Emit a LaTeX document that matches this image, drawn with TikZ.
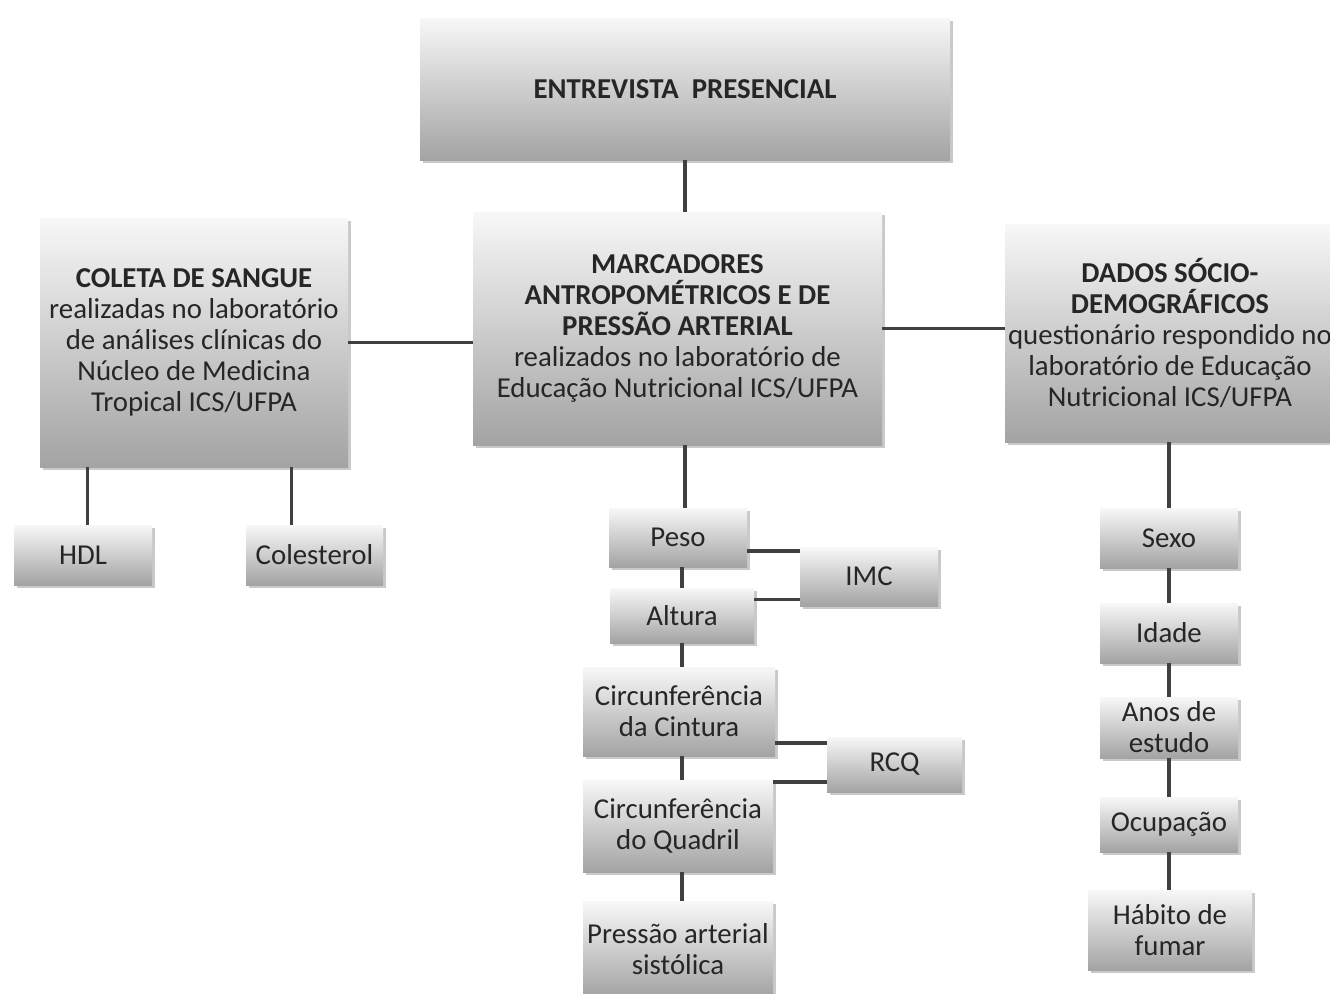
\documentclass[tikz,border=0pt]{standalone}
\usepackage{fontspec}
\setmainfont{Carlito}
\usetikzlibrary{shadows}

\begin{document}
\begin{tikzpicture}[
    box/.style={rectangle,inner sep=0pt,align=center,text=black!85,
        top color=black!3,middle color=black!11,bottom color=black!36,
        drop shadow={shadow xshift=0.05cm,shadow yshift=-0.05cm,opacity=0.3,fill=black!70},
        font=\fontsize{16.4}{17.6}\selectfont},
    link/.style={draw=black!75,line width=1.8pt},
]
    \useasboundingbox (0,0) rectangle (26.6,-19.88);

    %%%
    % main boxes
    \node[box,minimum width=10.6cm,minimum height=2.84cm] (entrevista) at (13.70,-1.78)
        {\bfseries ENTREVISTA\ \ PRESENCIAL};
    \node[box,minimum width=8.18cm,minimum height=4.66cm] (marc) at (13.55,-6.57)
        {{\bfseries MARCADORES}\\{\bfseries ANTROPOMÉTRICOS E DE}\\{\bfseries PRESSÃO ARTERIAL}\\
         realizados no laboratório de\\Educação Nutricional ICS/UFPA};
    \node[box,minimum width=6.16cm,minimum height=4.98cm] (coleta) at (3.88,-6.85)
        {{\bfseries COLETA DE SANGUE}\\realizadas no laboratório\\de análises clínicas do\\
         Núcleo de Medicina\\Tropical ICS/UFPA};
    \node[box,minimum width=6.6cm,minimum height=4.36cm] (dados) at (23.40,-6.66)
        {{\bfseries DADOS SÓCIO-}\\{\bfseries DEMOGRÁFICOS}\\questionário respondido no\\
         laboratório de Educação\\Nutricional ICS/UFPA};

    \draw[link] (entrevista.south) -- (entrevista.south |- marc.north);
    \draw[link] (coleta.east) -- (coleta.east -| marc.west);
    \draw[link] (marc.east) -- (marc.east -| dados.west);

    %%%
    % blood
    \node[box,minimum width=2.76cm,minimum height=1.2cm] (hdl) at (1.66,-11.10) {HDL};
    \node[box,minimum width=2.74cm,minimum height=1.2cm] (colesterol) at (6.29,-11.10) {Colesterol};
    \coordinate (h1) at ([xshift=0.96cm]coleta.south west);
    \coordinate (h2) at ([xshift=5.04cm]coleta.south west);
    \draw[link] (h1) -- (h1 |- hdl.north);
    \draw[link] (h2) -- (h2 |- colesterol.north);

    %%%
    % anthropometric markers
    \node[box,minimum width=2.76cm,minimum height=1.18cm] (peso) at (13.56,-10.75) {Peso};
    \node[box,minimum width=2.88cm,minimum height=1.1cm] (altura) at (13.64,-12.31) {Altura};
    \node[box,minimum width=2.76cm,minimum height=1.18cm] (imc) at (17.38,-11.53) {IMC};
    \node[box,minimum width=3.84cm,minimum height=1.78cm] (cintura) at (13.58,-14.23)
        {Circunferência\\da Cintura};
    \node[box,minimum width=2.7cm,minimum height=1.1cm] (rcq) at (17.89,-15.29) {RCQ};
    \node[box,minimum width=3.8cm,minimum height=1.84cm] (quadril) at (13.56,-16.52)
        {Circunferência\\do Quadril};
    \node[box,minimum width=3.8cm,minimum height=1.9cm] (pressao) at (13.56,-18.98)
        {Pressão arterial\\sistólica};

    \coordinate (col) at (13.64,0);
    \draw[link] ([xshift=0.15cm]marc.south) -- ([xshift=0.15cm]marc.south |- peso.north);
    \foreach \a/\b in {peso/altura,altura/cintura,cintura/quadril,quadril/pressao}
        \draw[link] (\a.south -| col) -- (\b.north -| col);

    \coordinate (p1) at ([yshift=-0.27cm]peso.east);
    \coordinate (p2) at ([yshift=0.32cm]altura.east);
    \coordinate (p3) at ([yshift=-0.63cm]cintura.east);
    \coordinate (p4) at ([yshift=0.88cm]quadril.east);
    \draw[link] (p1) -- (p1 -| imc.west);
    \draw[link] (p2) -- (p2 -| imc.west);
    \draw[link] (p3) -- (p3 -| rcq.west);
    \draw[link] (p4) -- (p4 -| rcq.west);

    %%%
    % socio-demographic data
    \node[box,minimum width=2.76cm,minimum height=1.2cm] (sexo) at (23.38,-10.76) {Sexo};
    \node[box,minimum width=2.76cm,minimum height=1.2cm] (idade) at (23.38,-12.66) {Idade};
    \node[box,minimum width=2.76cm,minimum height=1.22cm] (anos) at (23.38,-14.55) {Anos de\\estudo};
    \node[box,minimum width=2.76cm,minimum height=1.1cm] (ocupacao) at (23.38,-16.49) {Ocupação};
    \node[box,minimum width=3.28cm,minimum height=1.6cm] (habito) at (23.40,-18.60) {Hábito de\\fumar};

    \draw[link] (dados.south -| sexo.north) -- (sexo.north);
    \foreach \a/\b in {sexo/idade,idade/anos,anos/ocupacao,ocupacao/habito}
        \draw[link] (\a.south) -- (\a.south |- \b.north);

\end{tikzpicture}
\end{document}
